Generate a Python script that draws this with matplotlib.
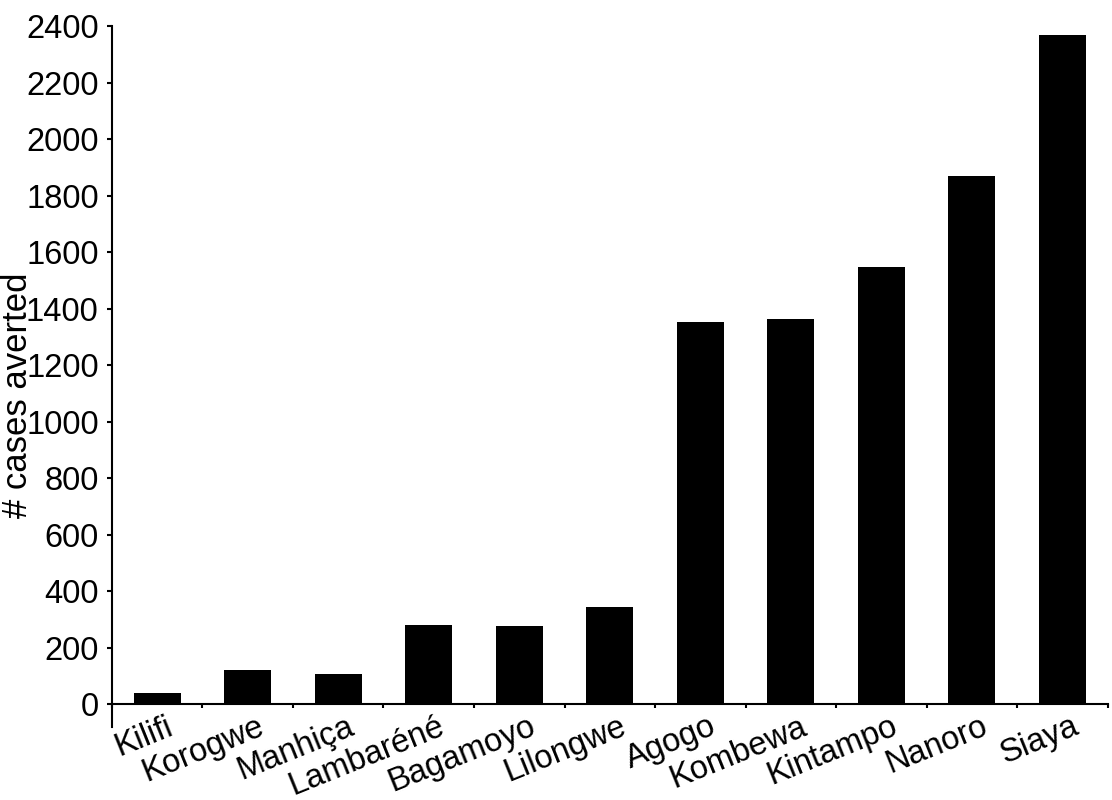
import numpy as np
import matplotlib
matplotlib.use("Agg")
import matplotlib.pyplot as plt
import matplotlib.transforms as mtransforms

sites = ["Kilifi", "Korogwe", "Manhiça", "Lambaréné", "Bagamoyo", "Lilongwe",
         "Agogo", "Kombewa", "Kintampo", "Nanoro", "Siaya"]
averted = [39, 122, 106, 280, 277, 344, 1353, 1364, 1548, 1868, 2368]
yticks = list(range(0, 2401, 200))

plt.rcParams["font.family"] = ["Liberation Sans", "DejaVu Sans"]

fig = plt.figure(figsize=(11.12, 8.0), dpi=100)
ax = fig.add_axes([0.1007, 0.0913, 0.8953, 0.8762])

x = np.arange(len(sites))
ax.bar(x, averted, width=0.52, color="black")

ax.set_xlim(-0.5, len(sites) - 0.5)
ax.set_ylim(-81, 2400)
ax.set_yticks(yticks)

for side in ("top", "right"):
    ax.spines[side].set_visible(False)
ax.spines["bottom"].set_position(("data", 0))
ax.spines["left"].set_linewidth(1.5)
ax.spines["bottom"].set_linewidth(1.5)

ax.tick_params(axis="y", direction="out", length=3.6, width=1.5, pad=6, labelsize=23.5)

# labels at category centres, tick marks between categories
ax.set_xticks(x)
ax.set_xticks(np.arange(-0.5, len(sites)), minor=True)
ax.tick_params(axis="x", which="major", length=0, pad=5, labelsize=23.5)
ax.tick_params(axis="x", which="minor", direction="out", length=3, width=1.5)
ax.set_xticklabels(sites, rotation=22, ha="right", va="top", rotation_mode="anchor")
shift = mtransforms.ScaledTranslation(9 / 100, 0, fig.dpi_scale_trans)
for lab in ax.get_xticklabels():
    lab.set_transform(lab.get_transform() + shift)

fig.text(17.5 / 1112, 1 - 395 / 800, "# cases averted", rotation=90,
         ha="center", va="center", fontsize=25)

fig.savefig("out.png", dpi=100)
